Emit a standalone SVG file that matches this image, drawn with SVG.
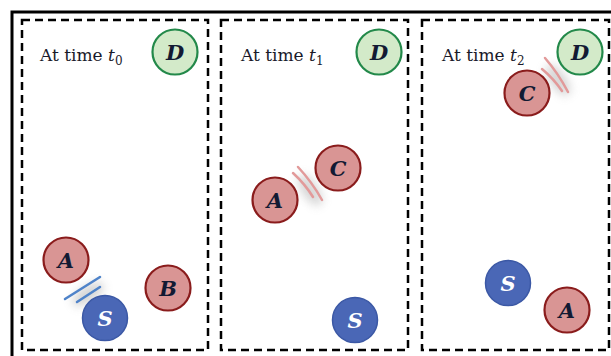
<svg xmlns="http://www.w3.org/2000/svg" width="611" height="356" viewBox="0 0 611 356">
<defs>
<filter id="blur" x="-50%" y="-50%" width="200%" height="200%"><feGaussianBlur stdDeviation="5"/></filter>
</defs>
<style>
.frame{fill:none;stroke:#000;stroke-width:3}
.panel{fill:none;stroke:#000;stroke-width:2.5;stroke-dasharray:8 5}
.red{fill:#d99594;stroke:#8a1c1c;stroke-width:2.2}
.blue{fill:#4a67b6;stroke:#3b58a5;stroke-width:1.5}
.green{fill:#d3eac9;stroke:#23894a;stroke-width:2.2}
.lbl{font-family:"DejaVu Serif","Liberation Serif",serif;font-weight:bold;font-style:italic;font-size:21px;text-anchor:middle;fill:#121a33}
.slbl{fill:#fff}
.time{font-family:"DejaVu Serif","Liberation Serif",serif;font-size:17px;fill:#1a1a2a}
.bwave{stroke:#4f83c9;stroke-width:2.5;fill:none;stroke-linecap:round}
.rwave{stroke:#e29a9a;stroke-width:2.5;fill:none;stroke-linecap:round}
.shadow{fill:#888;opacity:0.35;filter:url(#blur)}
</style>
<path class="frame" d="M12 356 V12 H611"/>
<rect class="panel" x="22" y="20" width="186" height="330"/>
<rect class="panel" x="221" y="20" width="187" height="330"/>
<rect class="panel" x="422" y="20" width="187" height="330"/>
<g id="labels">
<text class="time" x="40" y="61">At time <tspan font-style="italic">t</tspan><tspan font-size="12" dy="4">0</tspan></text>
<text class="time" x="241" y="61">At time <tspan font-style="italic">t</tspan><tspan font-size="12" dy="4">1</tspan></text>
<text class="time" x="442" y="61">At time <tspan font-style="italic">t</tspan><tspan font-size="12" dy="4">2</tspan></text>
</g>
<g id="connectors">
<ellipse class="shadow" cx="88" cy="294" rx="18" ry="8" transform="rotate(-33 88 294)"/>
<path class="bwave" d="M65 299 L100 277"/>
<path class="bwave" d="M77 302 L100 287"/>
<ellipse class="shadow" cx="310" cy="190" rx="8" ry="18" transform="rotate(-35 310 190)"/>
<path class="rwave" d="M298 167 Q312 182 322 200"/>
<path class="rwave" d="M293 173 Q305 184 313 197"/>
<ellipse class="shadow" cx="558" cy="80" rx="8" ry="18" transform="rotate(-35 558 80)"/>
<path class="rwave" d="M545 58 Q558 73 568 92"/>
<path class="rwave" d="M542 69 Q554 79 562 91"/>
</g>
<g id="D0"><circle class="green" cx="175" cy="52" r="22.5"/><text class="lbl" x="175" y="59.5">D</text></g>
<g id="A0"><circle class="red" cx="66" cy="260" r="22.5"/><text class="lbl" x="66" y="267.5">A</text></g>
<g id="B0"><circle class="red" cx="168" cy="288" r="22.5"/><text class="lbl" x="168" y="295.5">B</text></g>
<g id="S0"><circle class="blue" cx="105" cy="318" r="22.5"/><text class="lbl slbl" x="105" y="325.5">S</text></g>
<g id="D1"><circle class="green" cx="379" cy="52" r="22.5"/><text class="lbl" x="379" y="59.5">D</text></g>
<g id="A1"><circle class="red" cx="275" cy="200" r="22.5"/><text class="lbl" x="275" y="207.5">A</text></g>
<g id="C1"><circle class="red" cx="338" cy="168" r="22.5"/><text class="lbl" x="338" y="175.5">C</text></g>
<g id="S1"><circle class="blue" cx="355" cy="320" r="22.5"/><text class="lbl slbl" x="355" y="327.5">S</text></g>
<g id="D2"><circle class="green" cx="580" cy="52" r="22.5"/><text class="lbl" x="580" y="59.5">D</text></g>
<g id="C2"><circle class="red" cx="527" cy="93" r="22.5"/><text class="lbl" x="527" y="100.5">C</text></g>
<g id="S2"><circle class="blue" cx="508" cy="283" r="22.5"/><text class="lbl slbl" x="508" y="290.5">S</text></g>
<g id="A2"><circle class="red" cx="567" cy="310" r="22.5"/><text class="lbl" x="567" y="317.5">A</text></g>
</svg>
